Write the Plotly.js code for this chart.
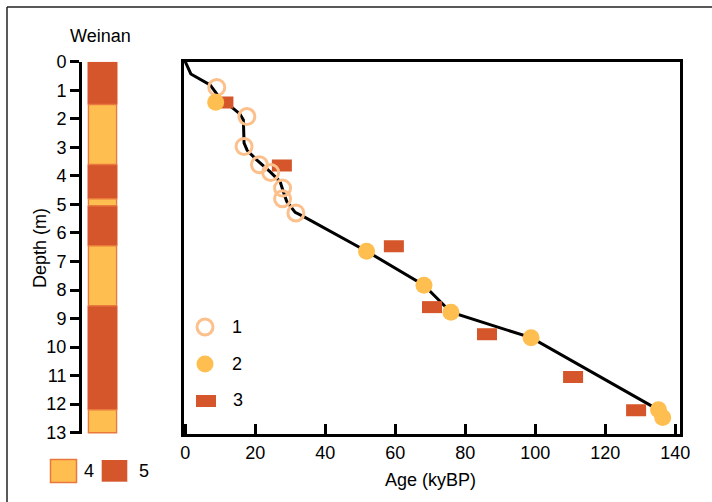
<!DOCTYPE html>
<html>
<head>
<meta charset="utf-8">
<script src="https://cdn.plot.ly/plotly-3.0.1.min.js"></script>
<style>html,body{margin:0;padding:0;background:#fff}#chart{width:712px;height:502px}</style>
</head>
<body>
<div id="chart"></div>
<script>
// ---- data ----
var osslAge   = [9.0, 17.6, 16.8, 21.2, 24.4, 27.8, 27.8, 31.6];
var osslDepth = [0.90, 1.92, 2.97, 3.61, 3.88, 4.43, 4.80, 5.30];

var tlAge   = [8.7, 51.8, 68.2, 75.9, 98.8, 135.2, 136.4];
var tlDepth = [1.42, 6.64, 7.83, 8.78, 9.67, 12.20, 12.47];

var irAge   = [10.9, 27.6, 59.6, 70.5, 86.2, 110.8, 128.8];
var irDepth = [1.43, 3.64, 6.47, 8.60, 9.55, 11.05, 12.21];

var modelAge   = [0, 1.6, 7.1, 9.9, 12.8, 15.6, 16.6, 16.8, 17.7, 20.4, 24.2, 27.1, 28.0, 29.0, 31.4, 33.7, 51.8, 68.2, 75.9, 98.8, 135.2];
var modelDepth = [0, 0.43, 0.81, 1.28, 1.55, 1.83, 2.04, 2.85, 3.11, 3.44, 3.85, 4.20, 4.55, 4.90, 5.28, 5.42, 6.64, 7.83, 8.78, 9.67, 12.20];

var layerTop    = [0, 1.5, 3.6, 4.8, 5.05, 6.45, 8.55, 12.2];
var layerBottom = [1.5, 3.6, 4.8, 5.05, 6.45, 8.55, 12.2, 13.0];
var layerType   = [5, 4, 5, 4, 5, 4, 5, 4];

var ageTicks   = [0, 20, 40, 60, 80, 100, 120, 140];
var depthTicks = [0,1,2,3,4,5,6,7,8,9,10,11,12,13];

var seriesLabels = ['1', '2', '3'];
var layerLabels  = ['4', '5'];

// ---- styles ----
var YEL = '#FEBF50', RED = '#D4562A', PEACH = '#FCC08C', YBORDER = '#E9783C';
var FONT = 'Liberation Sans, Arial, Helvetica, sans-serif';
var W = 712, H = 502;
function X(px){ return px / W; }
function Y(py){ return 1 - py / H; }

function layerTrace(type, color, width, lineColor, lineWidth) {
  var xs = [], bs = [], hs = [];
  for (var i = 0; i < layerType.length; i++) {
    if (layerType[i] === type) {
      xs.push(0); bs.push(layerTop[i]); hs.push(layerBottom[i] - layerTop[i]);
    }
  }
  return {type: 'bar', x: xs, y: hs, base: bs, width: width, xaxis: 'x2', yaxis: 'y2',
    marker: {color: color, line: {color: lineColor, width: lineWidth}},
    showlegend: false, hoverinfo: 'skip'};
}

var data = [
  layerTrace(5, RED, 1.0, RED, 0),
  layerTrace(4, YEL, 0.93, YBORDER, 1.5),
  {type: 'scatter', mode: 'lines', x: modelAge, y: modelDepth,
   line: {color: '#000', width: 3}, showlegend: false},
  {type: 'scatter', mode: 'markers', x: irAge, y: irDepth,
   marker: {symbol: 'line-ew', size: 14.3, color: RED, line: {color: RED, width: 12}}, showlegend: false},
  {type: 'scatter', mode: 'markers', x: osslAge, y: osslDepth,
   marker: {symbol: 'circle-open', size: 16, color: PEACH, line: {color: PEACH, width: 3}}, showlegend: false},
  {type: 'scatter', mode: 'markers', x: tlAge, y: tlDepth,
   marker: {symbol: 'circle', size: 17, color: YEL, line: {width: 0}}, showlegend: false}
];

var yDom = [Y(434), Y(61.7)];
var yRange = [13.046, 0];

var layout = {
  width: W, height: H,
  margin: {l: 0, r: 0, t: 0, b: 0},
  paper_bgcolor: '#fff', plot_bgcolor: '#fff',
  font: {family: FONT, size: 18, color: '#000'},
  barmode: 'overlay',
  showlegend: false,
  xaxis: {domain: [X(183.5), X(679.5)], range: [-0.5, 141.2], anchor: 'y',
    tickvals: ageTicks, ticktext: ageTicks.map(String), ticks: 'inside', ticklen: 10, tickwidth: 3,
    tickcolor: '#000', showline: true, linewidth: 3, linecolor: '#000', mirror: true,
    showgrid: false, zeroline: false, tickfont: {size: 18}},
  yaxis: {domain: yDom, range: yRange, anchor: 'x', showticklabels: false, ticks: '',
    showline: true, linewidth: 3, linecolor: '#000', mirror: true, showgrid: false, zeroline: false},
  xaxis2: {domain: [X(87.3), X(117.7)], range: [-0.5, 0.5], anchor: 'y2', visible: false, fixedrange: true},
  yaxis2: {domain: yDom, range: yRange, anchor: 'free', position: X(80), side: 'left',
    tickvals: depthTicks, ticktext: depthTicks.map(String), ticks: 'outside', ticklen: 9, tickwidth: 3,
    tickcolor: '#000', showline: true, linewidth: 3, linecolor: '#000', showgrid: false, zeroline: false,
    tickfont: {size: 18}},
  shapes: [
    {type: 'line', xref: 'paper', yref: 'paper', x0: X(7), x1: X(712), y0: Y(7), y1: Y(7), line: {color: '#222', width: 1.5}},
    {type: 'line', xref: 'paper', yref: 'paper', x0: X(7), x1: X(7), y0: Y(7), y1: Y(502), line: {color: '#222', width: 1.5}},
    // legend keys inside plot
    {type: 'circle', xref: 'paper', yref: 'paper', x0: X(197), x1: X(213), y0: Y(319), y1: Y(335), line: {color: PEACH, width: 3}, fillcolor: 'rgba(0,0,0,0)'},
    {type: 'circle', xref: 'paper', yref: 'paper', x0: X(196.5), x1: X(213.5), y0: Y(355.5), y1: Y(372.5), line: {width: 0}, fillcolor: YEL},
    {type: 'rect', xref: 'paper', yref: 'paper', x0: X(196), x1: X(216), y0: Y(395), y1: Y(407), line: {width: 0}, fillcolor: RED},
    // layer legend keys
    {type: 'rect', xref: 'paper', yref: 'paper', x0: X(50.5), x1: X(76.5), y0: Y(459.5), y1: Y(482.5), line: {color: YBORDER, width: 1.5}, fillcolor: YEL},
    {type: 'rect', xref: 'paper', yref: 'paper', x0: X(101.7), x1: X(127.3), y0: Y(460), y1: Y(481.7), line: {width: 0}, fillcolor: RED}
  ],
  annotations: [
    {text: 'Weinan', xref: 'paper', yref: 'paper', x: X(100), y: Y(35.5), showarrow: false, xanchor: 'center', yanchor: 'middle', font: {size: 18}},
    {text: 'Depth (m)', xref: 'paper', yref: 'paper', x: X(40), y: Y(248), showarrow: false, textangle: -90, xanchor: 'center', yanchor: 'middle', font: {size: 18}},
    {text: 'Age (kyBP)', xref: 'paper', yref: 'paper', x: X(430), y: Y(480), showarrow: false, xanchor: 'center', yanchor: 'middle', font: {size: 18}},
    {text: seriesLabels[0], xref: 'paper', yref: 'paper', x: X(230), y: Y(327), showarrow: false, xanchor: 'left', yanchor: 'middle', font: {size: 18}},
    {text: seriesLabels[1], xref: 'paper', yref: 'paper', x: X(230), y: Y(364), showarrow: false, xanchor: 'left', yanchor: 'middle', font: {size: 18}},
    {text: seriesLabels[2], xref: 'paper', yref: 'paper', x: X(231), y: Y(400), showarrow: false, xanchor: 'left', yanchor: 'middle', font: {size: 18}},
    {text: layerLabels[0], xref: 'paper', yref: 'paper', x: X(82), y: Y(471), showarrow: false, xanchor: 'left', yanchor: 'middle', font: {size: 18}},
    {text: layerLabels[1], xref: 'paper', yref: 'paper', x: X(137), y: Y(471), showarrow: false, xanchor: 'left', yanchor: 'middle', font: {size: 18}}
  ]
};

Plotly.newPlot('chart', data, layout, {displayModeBar: false, staticPlot: true});
</script>
</body>
</html>
